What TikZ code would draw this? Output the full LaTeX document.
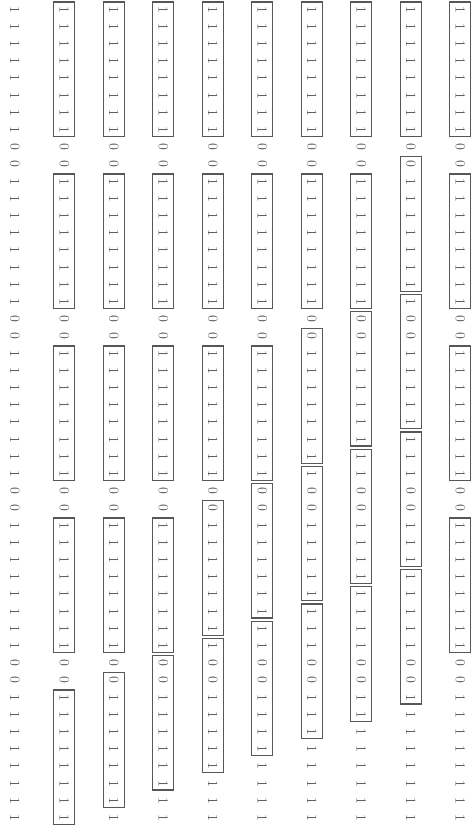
\documentclass[tikz,border=0pt]{standalone}
\usetikzlibrary{calc}
\definecolor{ink}{HTML}{555555}
\definecolor{frame}{HTML}{575757}
\begin{document}
\begin{tikzpicture}[x=1pt,y=-1pt,
  dig/.style={rotate=-90, inner sep=0pt, text=ink, font=\fontsize{14}{14}\selectfont},
  grp/.style={draw=frame, line width=1.1pt}]
\useasboundingbox (0,0) rectangle (471,830);
\foreach \k in {0,...,9}{
  \foreach \i in {0,...,47}{
    \pgfmathtruncatemacro{\m}{mod(\i,10)}
    \ifnum\m>7 \def\dg{0}\else\def\dg{1}\fi
    \node[dig] (d-\k-\i) at ({14.8+49.5*\k},{9.5+17.2*\i}) {\dg};
  }
}
\foreach \k/\p/\q in {
  1/0/7, 1/10/17, 1/20/27, 1/30/37, 1/40/47,
  2/0/7, 2/10/17, 2/20/27, 2/30/37, 2/39/46,
  3/0/7, 3/10/17, 3/20/27, 3/30/37, 3/38/45,
  4/0/7, 4/10/17, 4/20/27, 4/29/36, 4/37/44,
  5/0/7, 5/10/17, 5/20/27, 5/28/35, 5/36/43,
  6/0/7, 6/10/17, 6/19/26, 6/27/34, 6/35/42,
  7/0/7, 7/10/17, 7/18/25, 7/26/33, 7/34/41,
  8/0/7, 8/9/16, 8/17/24, 8/25/32, 8/33/40,
  9/0/7, 9/10/17, 9/20/27, 9/30/37}{
  \draw[grp] ($(d-\k-\p)+(-10.6,-7.5)$) rectangle ($(d-\k-\q)+(10.6,6.5)$);
}
\end{tikzpicture}
\end{document}
